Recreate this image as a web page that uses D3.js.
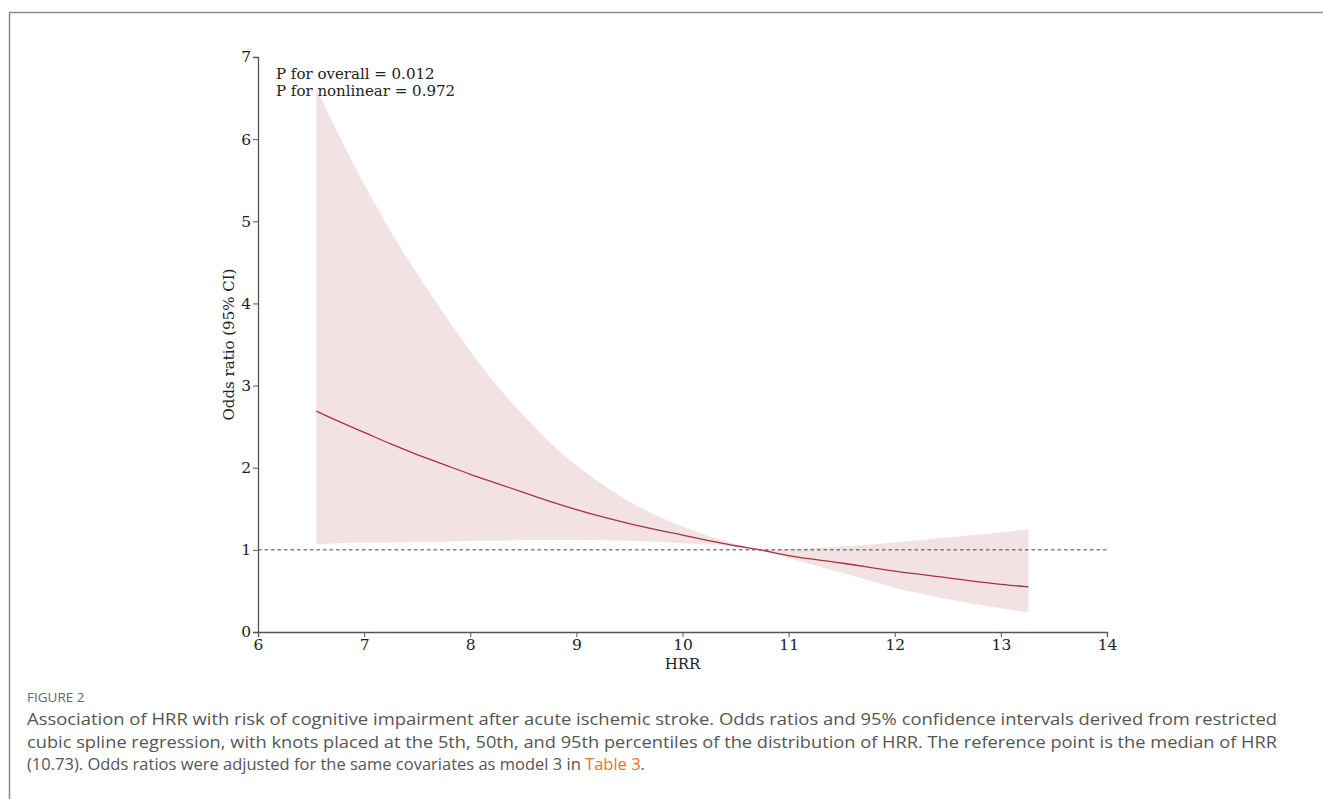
<!DOCTYPE html>
<html>
<head>
<meta charset="utf-8">
<script src="https://cdn.jsdelivr.net/npm/d3@7"></script>
<style>
  body { margin: 0; background: #fff; }
  svg { display: block; }
</style>
</head>
<body>
<svg id="rcs-svg" width="1323" height="799"></svg>
<script>
// values
const hrr   = [6.55, 6.75, 7.0, 7.25, 7.5, 7.75, 8.0, 8.25, 8.5, 8.75, 9.0, 9.5, 10.0, 10.5, 10.73, 11.0, 11.5, 12.0, 12.5, 13.0, 13.26];
const oddsRatio = [2.69, 2.57, 2.43, 2.29, 2.16, 2.04, 1.92, 1.81, 1.70, 1.59, 1.49, 1.32, 1.18, 1.05, 1.00, 0.93, 0.84, 0.74, 0.66, 0.58, 0.55];
const ciUpper = [6.62, 6.08, 5.45, 4.88, 4.36, 3.88, 3.42, 3.00, 2.64, 2.31, 2.03, 1.59, 1.28, 1.07, 1.00, 1.01, 1.04, 1.09, 1.15, 1.21, 1.25];
const ciLower = [1.07, 1.08, 1.09, 1.09, 1.10, 1.10, 1.11, 1.11, 1.12, 1.12, 1.12, 1.11, 1.08, 1.04, 1.00, 0.90, 0.72, 0.54, 0.40, 0.29, 0.24];

const xTicks = [6, 7, 8, 9, 10, 11, 12, 13, 14];
const yTicks = [0, 1, 2, 3, 4, 5, 6, 7];
const refOR = 1;

const pTexts = ["P for overall = 0.012", "P for nonlinear = 0.972"];
const captionLabel = "FIGURE 2";
const captionLines = [
  "Association of HRR with risk of cognitive impairment after acute ischemic stroke. Odds ratios and 95% confidence intervals derived from restricted",
  "cubic spline regression, with knots placed at the 5th, 50th, and 95th percentiles of the distribution of HRR. The reference point is the median of HRR",
  "(10.73). Odds ratios were adjusted for the same covariates as model 3 in "
];

(function drawSpline() {
  const svg = d3.select("#rcs-svg");
  const serif = "'DejaVu Serif', serif";
  const axisColor = "#555";

  // outer figure frame
  svg.append("path")
    .attr("d", "M9.5,799 V12.5 H1323")
    .attr("fill", "none")
    .attr("stroke", "#8a8a8a")
    .attr("stroke-width", 1.5);

  const x = d3.scaleLinear().domain([6, 14]).range([258, 1107]);
  const y = d3.scaleLinear().domain([0, 7]).range([632, 57]);

  const data = hrr.map((h, i) => ({ h, or: oddsRatio[i], lo: ciLower[i], hi: ciUpper[i] }));

  const band = d3.area()
    .x(d => x(d.h))
    .y0(d => y(d.lo))
    .y1(d => y(d.hi))
    .curve(d3.curveMonotoneX);

  svg.append("path")
    .datum(data)
    .attr("d", band)
    .attr("fill", "#f2e2e4");

  // reference line at OR = 1
  svg.append("line")
    .attr("x1", x(6)).attr("x2", x(14))
    .attr("y1", y(refOR)).attr("y2", y(refOR))
    .attr("stroke", "#444")
    .attr("stroke-width", 1)
    .attr("stroke-dasharray", "3.5,3");

  const line = d3.line()
    .x(d => x(d.h))
    .y(d => y(d.or))
    .curve(d3.curveMonotoneX);

  svg.append("path")
    .datum(data)
    .attr("d", line)
    .attr("fill", "none")
    .attr("stroke", "#a83340")
    .attr("stroke-width", 1.3);

  const xAxis = svg.append("g")
    .attr("transform", `translate(0,${y(0)})`)
    .call(d3.axisBottom(x).tickValues(xTicks).tickSize(5).tickPadding(2).tickFormat(d3.format("d")));

  const yAxis = svg.append("g")
    .attr("transform", `translate(${x(6)},0)`)
    .call(d3.axisLeft(y).tickValues(yTicks).tickSize(5).tickPadding(2).tickFormat(d3.format("d")));

  [xAxis, yAxis].forEach(ax => {
    ax.select(".domain").attr("stroke", axisColor).attr("stroke-width", 1.3);
    ax.selectAll(".tick line").attr("stroke", axisColor).attr("stroke-width", 1);
    ax.selectAll(".tick text")
      .attr("fill", "#222")
      .style("font-family", serif)
      .style("font-size", "15.5px");
  });

  svg.append("text")
    .attr("x", x(10))
    .attr("y", 669)
    .attr("text-anchor", "middle")
    .style("font-family", serif)
    .style("font-size", "15px")
    .attr("fill", "#222")
    .text("HRR");

  svg.append("text")
    .attr("transform", `translate(234,${(y(0) + y(7)) / 2}) rotate(-90)`)
    .attr("text-anchor", "middle")
    .style("font-family", serif)
    .style("font-size", "15px")
    .attr("fill", "#222")
    .text("Odds ratio (95% CI)");

  pTexts.forEach((t, i) => {
    svg.append("text")
      .attr("x", 276)
      .attr("y", 79 + i * 16.5)
      .style("font-family", serif)
      .style("font-size", "15px")
      .attr("fill", "#222")
      .text(t);
  });

  // caption
  const sans = "'Open Sans', sans-serif";
  svg.append("text")
    .attr("x", 27)
    .attr("y", 702)
    .style("font-family", sans)
    .style("font-size", "13.5px")
    .attr("fill", "#666")
    .text(captionLabel);

  const lineWidths = [1250, 1250, null];
  captionLines.forEach((t, i) => {
    const txt = svg.append("text")
      .attr("x", 27)
      .attr("y", 725 + i * 22.5)
      .style("font-family", sans)
      .style("font-size", "16.5px")
      .attr("fill", "#555");
    txt.append("tspan").text(t);
    if (i === 2) {
      txt.append("tspan").attr("fill", "#e8722a").text("Table 3");
      txt.append("tspan").text(".");
    }
    if (lineWidths[i]) {
      txt.attr("textLength", lineWidths[i]).attr("lengthAdjust", "spacingAndGlyphs");
    }
  });
})();
</script>
</body>
</html>
